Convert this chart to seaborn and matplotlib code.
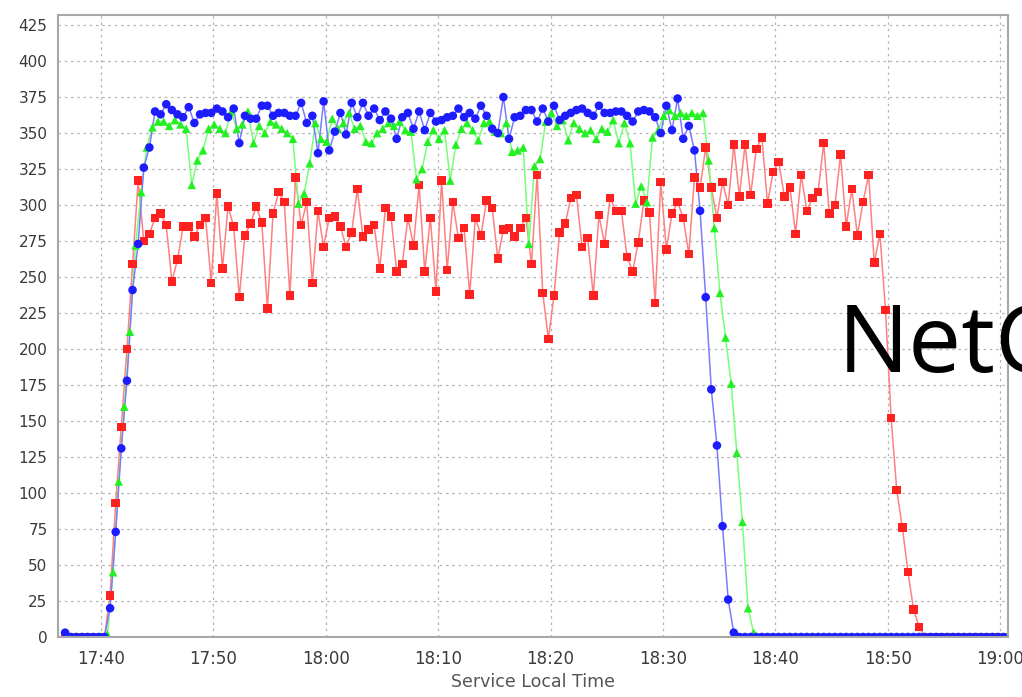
import pandas as pd
import numpy as np
import seaborn as sns
import matplotlib.pyplot as plt
import matplotlib.dates as mdates

# samples every 30 s, first sample at 17:36:48
start_time = pd.Timestamp('2000-01-01 17:36:48')
green_shift = pd.Timedelta(seconds=16)

blue_vals = [
    3, 0, 0, 0, 0, 0, 0, 0,
    20, 73, 131, 178, 241, 273, 326, 340,
    365, 363, 370, 366, 363, 361, 368, 357, 363, 364, 364, 367, 365, 361, 367, 343, 362,
    360, 360, 369, 369, 362, 364, 364, 362, 362, 371, 357, 362, 336, 372, 338, 351, 364, 349,
    371, 361, 371, 362, 367, 359, 365, 360, 346,
    361, 364, 353, 365, 352, 364, 358, 359, 361, 362, 367, 361, 364, 360, 369, 362, 353, 350,
    375, 346, 361, 362, 366, 366, 358,
    367, 358, 369, 359, 362, 364, 366, 367, 364, 362, 369, 364, 364, 365, 365, 362, 358, 365,
    366, 365, 361, 350, 369, 352, 374, 346, 355,
    338, 296, 236, 172, 133, 77, 26, 3,
    0, 0, 0, 0, 0, 0, 0, 0, 0, 0, 0, 0, 0, 0, 0, 0,
    0, 0, 0, 0, 0, 0, 0, 0, 0, 0, 0, 0, 0, 0, 0, 0,
    0, 0, 0, 0, 0, 0, 0, 0, 0, 0, 0, 0, 0, 0, 0, 0,
]

green_vals = [
    0, 0, 0, 0, 0, 0, 0, 2,
    45, 108, 160, 212, 272, 309, 340, 354,
    358, 358, 355, 359, 356, 353, 314, 331, 338, 353, 356, 353, 350, 365, 353, 356,
    365, 343, 355, 350, 358, 356, 353, 350, 346, 301, 308, 329, 357, 346, 344, 360, 353, 357,
    364, 353, 355, 344, 343, 350, 353, 357,
    355, 358, 352, 351, 318, 325, 344, 352, 346, 352, 317, 342, 353, 357, 352, 345, 357, 358,
    351, 350, 357, 337, 338, 340, 273, 327, 332,
    358, 364, 355, 359, 345, 357, 353, 350, 352, 346, 353, 351, 359, 343, 357, 343, 301, 313,
    302, 347, 352, 362, 366, 362, 364, 362, 364, 362,
    364, 331, 284, 239, 208, 176, 128, 80, 20, 3,
    0, 0, 0, 0, 0, 0, 0, 0, 0, 0, 0, 0, 0, 0, 0,
    0, 0, 0, 0, 0, 0, 0, 0, 0, 0, 0, 0, 0, 0, 0,
    0, 0, 0, 0, 0, 0, 0, 0, 0, 0, 0, 0, 0, 0, 0,
]

red_vals = [
    0, 0, 0, 0, 0, 0, 0, 0,
    29, 93, 146, 200, 259, 317, 275, 280,
    291, 294, 286, 247, 262, 285, 285, 278, 286, 291, 246, 308, 256, 299, 285, 236, 279,
    287, 299, 288, 228, 294, 309, 302, 237, 319, 286, 302, 246, 296, 271, 291, 292, 285, 271,
    281, 311, 278, 283, 286, 256, 298, 292, 254,
    259, 291, 272, 314, 254, 291, 240, 317, 255, 302, 277, 284, 238, 291, 279, 303, 298, 263,
    283, 284, 278, 284, 291, 259, 321,
    239, 207, 237, 281, 287, 305, 307, 271, 277, 237, 293, 273, 305, 296, 296, 264, 254, 274,
    303, 295, 232, 316, 269, 294, 302, 291, 266,
    319, 312, 340, 312, 291, 316, 300, 342, 306, 342, 307, 339, 347, 301, 323, 330, 306, 312,
    280, 321, 296, 305, 309, 343, 294, 300, 335, 285, 311, 279, 302, 321, 260, 280,
    227, 152, 102, 76, 45, 19, 7,
    0, 0, 0, 0, 0, 0, 0, 0, 0, 0, 0, 0, 0, 0, 0,
]

y_ticks = list(range(0, 426, 25))
series_names = ['red', 'green', 'blue']
line_colors = {'blue': '#7b7bff', 'green': '#77ff77', 'red': '#ff8080'}
marker_colors = {'blue': '#1c1cff', 'green': '#22f022', 'red': '#ff2020'}
marker_shapes = {'blue': 'o', 'green': '^', 'red': 's'}
series_vals = {'blue': blue_vals, 'green': green_vals, 'red': red_vals}

frames = []
for name in series_names:
    vals = series_vals[name]
    t = pd.date_range(start_time, periods=len(vals), freq='30s')
    if name == 'green':
        t = t + green_shift
    frames.append(pd.DataFrame({'time': t, 'value': vals, 'series': name}))
df = pd.concat(frames, ignore_index=True)

sns.set_style('white')
plt.rcParams['font.family'] = ['DejaVu Sans']

fig = plt.figure(figsize=(10.22, 6.97), dpi=100)
ax = fig.add_axes([58 / 1022, 60 / 697, 950 / 1022, 622 / 697])

sns.lineplot(data=df, x='time', y='value', hue='series', palette=line_colors,
             estimator=None, sort=False, linewidth=1.1, legend=False, ax=ax)
sns.scatterplot(data=df, x='time', y='value', hue='series', style='series',
                palette=marker_colors, markers=marker_shapes, s=38, linewidth=0,
                legend=False, ax=ax, zorder=3)

ax.set_xlim(pd.Timestamp('2000-01-01 17:36:10'), pd.Timestamp('2000-01-01 19:00:42'))
ax.set_ylim(0, 432)
ax.set_yticks(y_ticks)
ax.xaxis.set_major_locator(mdates.MinuteLocator(byminute=[0, 10, 20, 30, 40, 50]))
ax.xaxis.set_major_formatter(mdates.DateFormatter('%H:%M'))

ax.grid(True, color='#b4b4b4', linestyle=(0, (2, 3)), linewidth=0.9)
for sp in ax.spines.values():
    sp.set_color('#a8a8a8')
    sp.set_linewidth(1.5)
    sp.set_zorder(5)
ax.tick_params(axis='both', direction='out', length=4, width=1, color='#909090',
               labelcolor='#3a3a3a', labelsize=11)
ax.tick_params(axis='x', labelsize=12, pad=5)

ax.set_ylabel('')
ax.set_xlabel('Service Local Time', fontsize=12.5, color='#555555', labelpad=4)

fig.text(838 / 1022, (697 - 372) / 697, 'NetC', fontsize=68, color='black',
         family=['Open Sans', 'DejaVu Sans'], va='baseline', ha='left')

fig.savefig('out.png', dpi=100)
